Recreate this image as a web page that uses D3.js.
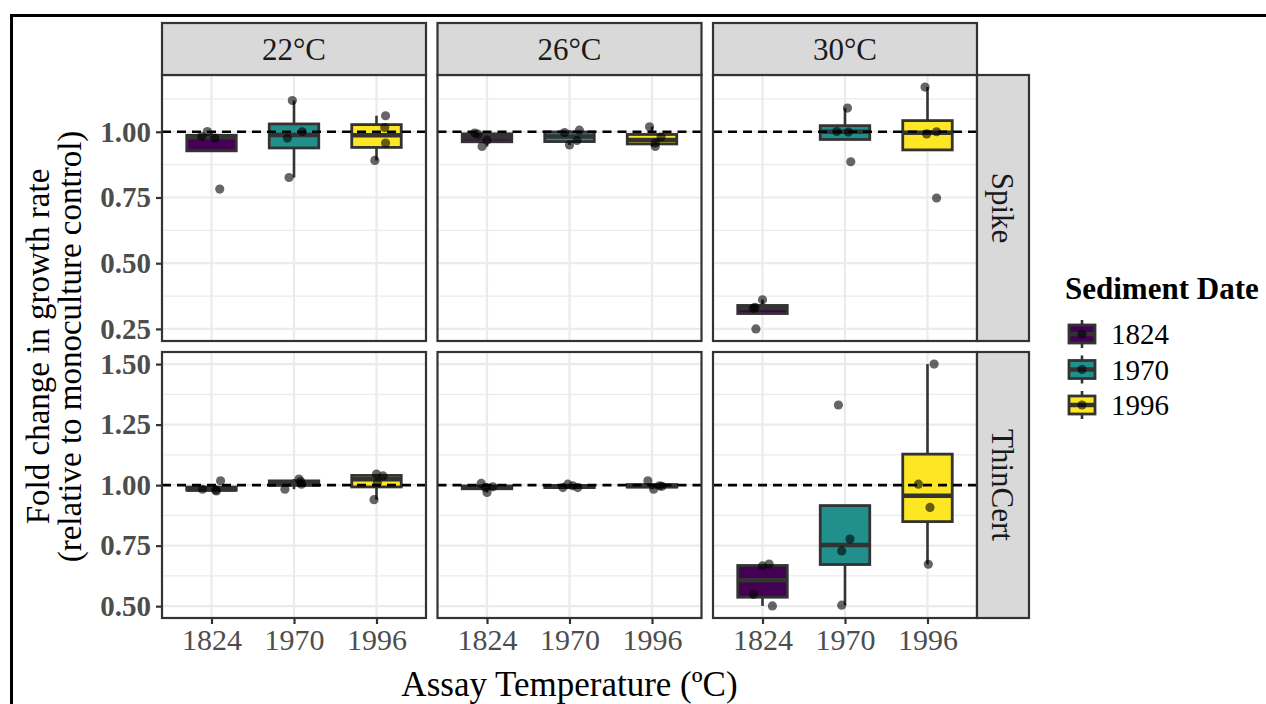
<!DOCTYPE html>
<html>
<head>
<meta charset="utf-8">
<script src="https://cdn.jsdelivr.net/npm/d3@7"></script>
<style>
  body { margin: 0; background: #fff; }
  svg { display: block; font-family: "Liberation Serif", "DejaVu Serif", serif; }
</style>
</head>
<body>
<svg id="chart" width="1266" height="704"></svg>
<script>
var temps = ['22°C', '26°C', '30°C'];
var treatments = ['Spike', 'ThinCert'];
var dates = ['1824', '1970', '1996'];
var dateColors = ['#440154', '#21908C', '#FDE725'];

// fold change per replicate: [temperature][sediment date][replicate]
var spikeValues = [
  [[0.982, 1.001, 0.976, 0.782], [1.119, 0.826, 0.976, 1.000], [1.061, 1.016, 0.957, 0.891]],
  [[0.991, 0.995, 0.968, 0.944], [0.997, 1.006, 0.967, 0.950], [1.019, 0.980, 0.957, 0.944]],
  [[0.361, 0.332, 0.328, 0.250], [1.090, 1.001, 0.999, 0.886], [1.170, 0.992, 1.000, 0.748]]
];
var thinCertValues = [
  [[0.983, 0.976, 1.018, 0.980], [0.983, 1.025, 1.004, 1.015], [0.940, 1.046, 1.038, 1.010]],
  [[1.007, 0.970, 0.993, 0.990], [0.990, 1.004, 0.997, 0.990], [1.018, 0.983, 0.997, 0.995]],
  [[0.666, 0.674, 0.549, 0.501], [1.331, 0.777, 0.728, 0.504], [1.500, 1.004, 0.908, 0.673]]
];
// horizontal jitter of each point (fraction of a category step)
var spikeJitter = [
  [[-0.12, -0.05, 0.04, 0.10], [-0.02, -0.06, -0.08, 0.10], [0.11, 0.10, 0.11, -0.02]],
  [[-0.11, -0.15, 0.00, -0.06], [-0.06, 0.12, 0.09, 0.00], [-0.03, 0.11, 0.04, 0.04]],
  [[0.00, -0.09, -0.11, -0.08], [0.03, -0.10, 0.04, 0.07], [-0.03, -0.01, 0.11, 0.11]]
];
var thinCertJitter = [
  [[-0.11, 0.06, 0.11, 0.05], [-0.11, 0.06, 0.09, 0.08], [-0.03, 0.00, 0.08, 0.01]],
  [[-0.07, 0.00, 0.07, -0.02], [-0.08, -0.02, 0.04, 0.10], [-0.05, 0.02, 0.09, 0.12]],
  [[0.00, 0.08, -0.11, 0.12], [-0.08, 0.06, -0.04, -0.04], [0.08, -0.11, 0.03, 0.01]]
];
var spikeTicks = [0.25, 0.50, 0.75, 1.00];
var thinCertTicks = [0.50, 0.75, 1.00, 1.25, 1.50];

var rowValues = [spikeValues, thinCertValues];
var rowJitter = [spikeJitter, thinCertJitter];
var rowTicks = [spikeTicks, thinCertTicks];

// layout
var colX = [162, 437.5, 713];
var panelW = 264;
var rowY = [75, 352];
var panelH = 266;
var stripTop = 23;
var stripH = 52;
var rightStripW = 52;
var gridCol = '#EBEBEB';
var lineCol = '#333333';
var tickTextCol = '#4D4D4D';

var svg = d3.select('#chart');

function boxStats(vals) {
  var s = vals.slice().sort(d3.ascending);
  var q1 = d3.quantile(s, 0.25);
  var med = d3.quantile(s, 0.5);
  var q3 = d3.quantile(s, 0.75);
  var iqr = q3 - q1;
  var inside = s.filter(function (v) { return v >= q1 - 1.5 * iqr && v <= q3 + 1.5 * iqr; });
  return { q1: q1, med: med, q3: q3, lo: d3.min(inside), hi: d3.max(inside) };
}

// outer frame
svg.append('rect')
  .attr('x', 11.5).attr('y', 15.5)
  .attr('width', 1400).attr('height', 900)
  .attr('fill', 'none').attr('stroke', '#000').attr('stroke-width', 3);

rowValues.forEach(function (values, r) {
  // y scale shared across the row, 5% expansion like ggplot
  var all = d3.merge(values.map(function (t) { return d3.merge(t); }));
  var ext = d3.extent(all);
  var pad = (ext[1] - ext[0]) * 0.05;
  var y = d3.scaleLinear()
    .domain([ext[0] - pad, ext[1] + pad])
    .range([rowY[r] + panelH, rowY[r]]);
  var ticks = rowTicks[r];
  var minor = [];
  for (var i = 0; i < ticks.length - 1; i++) minor.push((ticks[i] + ticks[i + 1]) / 2);
  minor.push(ticks[0] - 0.125, ticks[ticks.length - 1] + 0.125);
  minor = minor.filter(function (m) { return m > y.domain()[0] && m < y.domain()[1]; });

  temps.forEach(function (temp, c) {
    var x = d3.scalePoint().domain(dates)
      .range([colX[c], colX[c] + panelW]).padding(0.6);
    var step = x.step();
    var g = svg.append('g');

    g.append('rect')
      .attr('x', colX[c]).attr('y', rowY[r])
      .attr('width', panelW).attr('height', panelH)
      .attr('fill', '#fff');

    g.selectAll('.minor').data(minor).enter().append('line')
      .attr('x1', colX[c]).attr('x2', colX[c] + panelW)
      .attr('y1', y).attr('y2', y)
      .attr('stroke', gridCol).attr('stroke-width', 1.2);
    g.selectAll('.major').data(ticks).enter().append('line')
      .attr('x1', colX[c]).attr('x2', colX[c] + panelW)
      .attr('y1', y).attr('y2', y)
      .attr('stroke', gridCol).attr('stroke-width', 2.2);
    g.selectAll('.vgrid').data(dates).enter().append('line')
      .attr('x1', x).attr('x2', x)
      .attr('y1', rowY[r]).attr('y2', rowY[r] + panelH)
      .attr('stroke', gridCol).attr('stroke-width', 2.2);

    // boxplots
    values[c].forEach(function (vals, k) {
      var st = boxStats(vals);
      var cx = x(dates[k]);
      var bw = step * 0.6;
      g.append('line')
        .attr('x1', cx).attr('x2', cx)
        .attr('y1', y(st.q3)).attr('y2', y(st.hi))
        .attr('stroke', lineCol).attr('stroke-width', 2.6);
      g.append('line')
        .attr('x1', cx).attr('x2', cx)
        .attr('y1', y(st.q1)).attr('y2', y(st.lo))
        .attr('stroke', lineCol).attr('stroke-width', 2.6);
      g.append('rect')
        .attr('x', cx - bw / 2).attr('y', y(st.q3))
        .attr('width', bw).attr('height', y(st.q1) - y(st.q3))
        .attr('fill', dateColors[k])
        .attr('stroke', lineCol).attr('stroke-width', 2.8);
      g.append('line')
        .attr('x1', cx - bw / 2).attr('x2', cx + bw / 2)
        .attr('y1', y(st.med)).attr('y2', y(st.med))
        .attr('stroke', lineCol).attr('stroke-width', 4.5);
    });

    // reference line at 1
    g.append('line')
      .attr('x1', colX[c]).attr('x2', colX[c] + panelW)
      .attr('y1', y(1)).attr('y2', y(1))
      .attr('stroke', '#000').attr('stroke-width', 2.6)
      .attr('stroke-dasharray', '9,6');

    // jittered replicate points
    values[c].forEach(function (vals, k) {
      g.selectAll(null).data(vals).enter().append('circle')
        .attr('cx', function (v, j) { return x(dates[k]) + rowJitter[r][c][k][j] * step; })
        .attr('cy', function (v) { return y(v); })
        .attr('r', 4.6)
        .attr('fill', '#000').attr('fill-opacity', 0.6);
    });

    g.append('rect')
      .attr('x', colX[c]).attr('y', rowY[r])
      .attr('width', panelW).attr('height', panelH)
      .attr('fill', 'none').attr('stroke', lineCol).attr('stroke-width', 2.2);

    // top strips
    if (r === 0) {
      svg.append('rect')
        .attr('x', colX[c]).attr('y', stripTop)
        .attr('width', panelW).attr('height', stripH)
        .attr('fill', '#D9D9D9').attr('stroke', lineCol).attr('stroke-width', 2.2);
      svg.append('text')
        .attr('x', colX[c] + panelW / 2).attr('y', stripTop + stripH / 2)
        .attr('dy', '0.35em').attr('text-anchor', 'middle')
        .attr('font-size', 31).attr('fill', '#1A1A1A')
        .text(temp);
    }

    // x axis under bottom row
    if (r === rowValues.length - 1) {
      var xa = svg.append('g')
        .attr('transform', 'translate(0,' + (rowY[r] + panelH) + ')')
        .call(d3.axisBottom(x).tickSize(6).tickPadding(5));
      xa.select('.domain').remove();
      xa.selectAll('line').attr('stroke', lineCol).attr('stroke-width', 2.2);
      xa.selectAll('text').attr('font-size', 30).attr('fill', tickTextCol)
        .attr('font-family', '"Liberation Serif", serif');
    }
  });

  // y axis
  var ya = svg.append('g')
    .attr('transform', 'translate(' + colX[0] + ',0)')
    .call(d3.axisLeft(y).tickValues(ticks).tickFormat(d3.format('.2f')).tickSize(6).tickPadding(5));
  ya.select('.domain').remove();
  ya.selectAll('line').attr('stroke', lineCol).attr('stroke-width', 2.2);
  ya.selectAll('text').attr('font-size', 29).attr('font-weight', 'bold').attr('fill', tickTextCol)
    .attr('font-family', '"Liberation Serif", serif');

  // right strip
  var sx = colX[2] + panelW;
  svg.append('rect')
    .attr('x', sx).attr('y', rowY[r])
    .attr('width', rightStripW).attr('height', panelH)
    .attr('fill', '#D9D9D9').attr('stroke', lineCol).attr('stroke-width', 2.2);
  svg.append('text')
    .attr('transform', 'translate(' + (sx + rightStripW / 2) + ',' + (rowY[r] + panelH / 2) + ') rotate(90)')
    .attr('dy', '0.35em').attr('text-anchor', 'middle')
    .attr('font-size', 31).attr('fill', '#1A1A1A')
    .text(treatments[r]);
});

// axis titles
svg.append('text')
  .attr('x', (colX[0] + colX[2] + panelW) / 2).attr('y', 684)
  .attr('dy', '0.35em').attr('text-anchor', 'middle')
  .attr('font-size', 35).attr('fill', '#000')
  .text('Assay Temperature (ºC)');

var yTitle = ['Fold change in growth rate', '(relative to monoculture control)'];
svg.selectAll('.ytitle').data(yTitle).enter().append('text')
  .attr('transform', function (d, i) { return 'translate(' + (37 + i * 32) + ',' + ((rowY[0] + rowY[1] + panelH) / 2) + ') rotate(-90)'; })
  .attr('dy', '0.35em').attr('text-anchor', 'middle')
  .attr('font-size', 33).attr('fill', '#000')
  .text(function (d) { return d; });

// legend
var legend = svg.append('g').attr('transform', 'translate(1065,0)');
legend.append('text')
  .attr('x', 0).attr('y', 299)
  .attr('font-size', 31).attr('font-weight', 'bold').attr('fill', '#000')
  .text('Sediment Date');

dates.forEach(function (d, k) {
  var cy = 334 + k * 35.5;
  var kg = legend.append('g').attr('transform', 'translate(17,' + cy + ')');
  kg.append('line').attr('x1', 0).attr('x2', 0).attr('y1', -14).attr('y2', 14)
    .attr('stroke', lineCol).attr('stroke-width', 2.6);
  kg.append('rect').attr('x', -13).attr('y', -9).attr('width', 26).attr('height', 18)
    .attr('fill', dateColors[k]).attr('stroke', lineCol).attr('stroke-width', 2.8);
  kg.append('line').attr('x1', -13).attr('x2', 13).attr('y1', 0).attr('y2', 0)
    .attr('stroke', lineCol).attr('stroke-width', 4.5);
  kg.append('circle').attr('r', 4.6).attr('fill', '#000').attr('fill-opacity', 0.6);
  legend.append('text')
    .attr('x', 46).attr('y', cy).attr('dy', '0.35em')
    .attr('font-size', 29).attr('fill', '#000')
    .text(d);
});
</script>
</body>
</html>
